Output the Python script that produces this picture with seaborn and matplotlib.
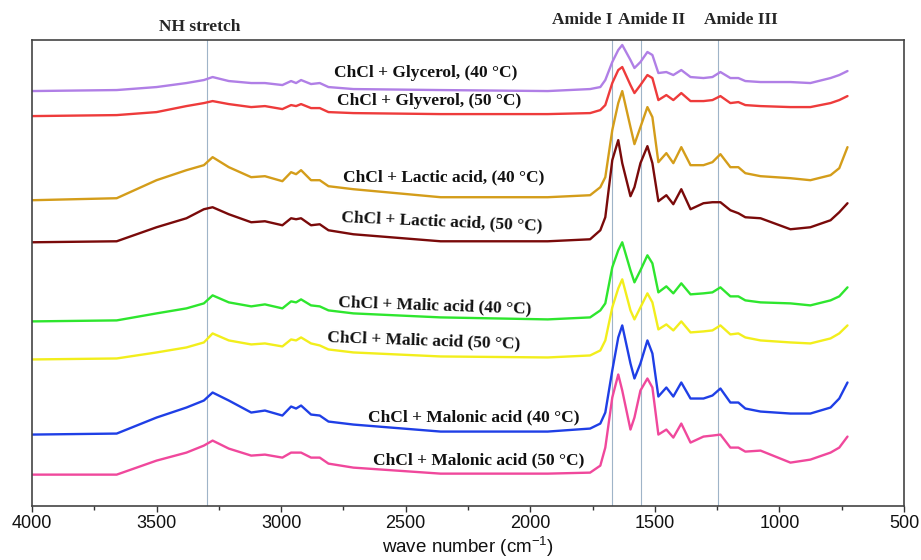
import numpy as np
import pandas as pd
import matplotlib
matplotlib.use("Agg")
import matplotlib.pyplot as plt
from matplotlib.ticker import MultipleLocator
import seaborn as sns

wavenumber = [4000, 3660, 3500, 3380, 3310, 3275, 3210, 3120, 3065, 2995,
              2960, 2940, 2920, 2880, 2845, 2810, 2710, 2360, 1930,
              1760, 1719, 1699, 1671, 1647, 1631, 1598, 1582, 1558, 1530,
              1510, 1486, 1454, 1426, 1394, 1357, 1305, 1269, 1237, 1197,
              1165, 1137, 1076, 956, 876, 795, 760, 727]

# stacked signal, read as vertical position (smaller = higher on the plot)
glycerol_40 = [91, 90, 87, 83, 80, 77, 81, 83, 83, 85, 81, 83, 80, 84, 83, 87, 89, 90, 91,
               89, 87, 80, 62, 50, 45, 60, 68, 62, 52, 55, 73, 72, 75, 70, 77, 78, 77, 72,
               78, 78, 81, 82, 82, 83, 78, 75, 71]
glycerol_50 = [116, 115, 112, 106, 103, 101, 104, 107, 106, 109, 105, 106, 104, 108, 108, 112, 113, 114, 114,
               113, 110, 105, 83, 70, 67, 85, 93, 85, 75, 78, 100, 95, 100, 93, 101, 101, 100, 96,
               103, 102, 105, 106, 107, 107, 103, 100, 96]
lactic_40 = [200, 198, 180, 170, 165, 157, 167, 177, 176, 181, 172, 174, 170, 180, 180, 186, 189, 197, 197,
             195, 187, 177, 130, 103, 91, 127, 144, 127, 107, 117, 162, 153, 163, 147, 165, 165, 162, 154,
             167, 167, 173, 176, 178, 180, 175, 168, 147]
lactic_50 = [242, 241, 227, 218, 209, 207, 214, 222, 221, 225, 218, 219, 218, 225, 224, 230, 234, 241, 241,
             239, 230, 217, 160, 140, 163, 196, 187, 163, 146, 163, 201, 195, 204, 189, 209, 203, 202, 202,
             210, 213, 217, 218, 229, 227, 220, 212, 203]
malic_40 = [321, 320, 313, 308, 303, 295, 302, 306, 304, 308, 301, 302, 299, 305, 306, 310, 313, 317, 319,
            317, 310, 303, 267, 250, 242, 270, 282, 270, 255, 263, 292, 286, 293, 283, 294, 293, 292, 287,
            296, 296, 300, 302, 303, 305, 300, 296, 287]
malic_50 = [359, 358, 352, 347, 342, 333, 340, 344, 343, 346, 339, 340, 337, 343, 345, 349, 352, 356, 357,
            355, 350, 340, 307, 288, 279, 310, 319, 307, 293, 302, 329, 324, 330, 321, 332, 331, 330, 325,
            334, 333, 337, 340, 342, 343, 338, 333, 325]
malonic_40 = [434, 433, 417, 407, 400, 392, 400, 412, 410, 415, 406, 408, 405, 414, 415, 421, 424, 431, 431,
              428, 423, 412, 370, 337, 325, 363, 378, 363, 340, 353, 396, 387, 396, 382, 398, 398, 395, 388,
              402, 402, 408, 411, 413, 413, 407, 398, 382]
malonic_50 = [474, 474, 460, 452, 445, 440, 448, 455, 454, 457, 452, 452, 452, 457, 457, 463, 467, 473, 473,
              472, 465, 447, 397, 374, 390, 429, 417, 390, 378, 387, 434, 429, 437, 423, 442, 436, 435, 434,
              447, 447, 451, 450, 462, 459, 452, 447, 436]

labels = ["ChCl + Glycerol, (40 °C)", "ChCl + Glyverol, (50 °C)",
          "ChCl + Lactic acid, (40 °C)", "ChCl + Lactic acid, (50 °C)",
          "ChCl + Malic acid (40 °C)", "ChCl + Malic acid (50 °C)",
          "ChCl + Malonic acid (40 °C)", "ChCl + Malonic acid (50 °C)"]
series = [glycerol_40, glycerol_50, lactic_40, lactic_50,
          malic_40, malic_50, malonic_40, malonic_50]
colors = ["#b07fe6", "#ee3b3b", "#d49d1a", "#7a0a0a",
          "#2ee62e", "#f2ee1c", "#1f3fe6", "#f0489c"]

band_lines = [3297, 1671, 1554, 1245]

# label placement (wavenumber, signal, rotation)
label_pos = [(2418, 73, 0), (2406, 101, 0), (2349, 177, 0), (2353, 222, -2.5),
             (2382, 305, -2), (2426, 340, -2), (2225, 417, 0), (2209, 460, 0)]

df = pd.concat([pd.DataFrame({"wavenumber": wavenumber, "signal": s, "sample": n})
                for n, s in zip(labels, series)])

sns.set_theme(style="ticks")
plt.rcParams['font.family'] = ['Liberation Sans', 'DejaVu Sans']
plt.rcParams['mathtext.fontset'] = 'custom'
plt.rcParams['mathtext.rm'] = 'Liberation Sans'

fig, ax = plt.subplots(figsize=(9.21, 5.6), dpi=100)
fig.subplots_adjust(left=0.0347, right=0.9816, bottom=0.097, top=0.9286)

for w in band_lines:
    ax.axvline(w, color="#9fb4c8", lw=0.8, zorder=0)

sns.lineplot(data=df, x="wavenumber", y="signal", hue="sample", hue_order=labels,
             palette=colors, sort=False, estimator=None, lw=1.7, legend=False, ax=ax)

serif = ['Liberation Serif', 'DejaVu Serif']
for name, (x, y, rot) in zip(labels, label_pos):
    ax.text(x, y, name, ha="center", va="center", rotation=rot,
            fontsize=12.5, fontweight="bold", family=serif, color="#111111")

fig.text(200 / 921, 1 - 27 / 560, "NH stretch", ha="center", va="center",
         fontsize=12.5, fontweight="bold", family=serif)
for txt, xp in [("Amide I", 582), ("Amide II", 652), ("Amide III", 741)]:
    fig.text(xp / 921, 1 - 20 / 560, txt, ha="center", va="center",
             fontsize=12.5, fontweight="bold", family=serif)

ax.set_xlim(4000, 500)
ax.set_ylim(505, 40)
ax.xaxis.set_major_locator(MultipleLocator(500))
ax.xaxis.set_minor_locator(MultipleLocator(250))
ax.set_yticks([])
ax.tick_params(axis="x", which="major", direction="out", length=4, width=1,
               labelsize=13, pad=3, colors="#333333", labelcolor="#111111")
ax.tick_params(axis="x", which="minor", direction="out", length=3, width=1, colors="#333333")
ax.set_ylabel("")
ax.set_xlabel("wave number (cm$^{\\mathrm{-1}}$)", fontsize=13.5, labelpad=1, color="#111111")
for sp in ax.spines.values():
    sp.set_color("#444444")
    sp.set_linewidth(1.2)

fig.savefig("out.png", dpi=100)
